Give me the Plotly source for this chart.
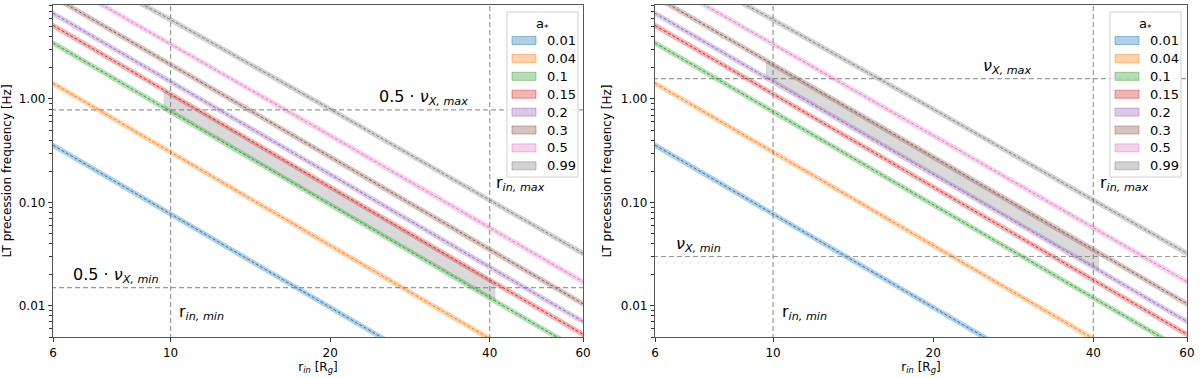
import numpy as np
import plotly.graph_objects as go
from plotly.subplots import make_subplots

# inner disc radius grid [R_g]
r_in = [6, 10, 20, 40, 60]

spin_labels = ["0.01", "0.04", "0.1", "0.15", "0.2", "0.3", "0.5", "0.99"]

# LT precession frequency [Hz] at r_in, one list per spin
nu_001 = [0.358, 0.0774, 0.00968, 0.00121, 0.000359]
nu_004 = [1.419, 0.307, 0.0385, 0.00483, 0.00143]
nu_010 = [3.482, 0.758, 0.0954, 0.0120, 0.00356]
nu_015 = [5.140, 1.122, 0.1418, 0.0179, 0.00531]
nu_020 = [6.742, 1.478, 0.1875, 0.0237, 0.00705]
nu_030 = [9.777, 2.161, 0.2763, 0.0351, 0.01047]
nu_050 = [15.16, 3.415, 0.4442, 0.0570, 0.01709]
nu_099 = [24.43, 5.844, 0.7995, 0.1059, 0.03215]
nu_all = [nu_001, nu_004, nu_010, nu_015, nu_020, nu_030, nu_050, nu_099]

band_frac = 0.065  # relative width of the shaded band (mass uncertainty)

colors = ["#1f77b4", "#ff7f0e", "#2ca02c", "#d62728",
          "#9467bd", "#8c564b", "#e377c2", "#7f7f7f"]

# observational limits
nu_x = [0.030, 1.57]       # nu_X,min, nu_X,max [Hz]
r_in_lims = [10, 40]       # r_in,min, r_in,max

# grey allowed regions (r edges, lower / upper frequency)
allowed_r = [9.7, 41]
allowed_lo_left = [0.829, 0.01113]
allowed_hi_left = [1.228, 0.01659]
allowed_lo_right = [1.617, 0.0220]
allowed_hi_right = [2.364, 0.0326]

Y_RANGE = [np.log10(0.005), np.log10(8.1)]
X_RANGE = [np.log10(6), np.log10(60)]
FONT = "DejaVu Sans"
W, H = 1200, 378
ML, MR, MT, MB = 53, 13, 5, 41


def rgba(hex_color, alpha):
    h = hex_color.lstrip("#")
    return f"rgba({int(h[0:2], 16)},{int(h[2:4], 16)},{int(h[4:6], 16)},{alpha})"


def px2paper(px, py):
    # pixel position in the figure -> paper coords (plot area)
    return (px - ML) / (W - ML - MR), 1 - (py - MT) / (H - MT - MB)


fig = make_subplots(rows=1, cols=2)

panels = [
    dict(col=1, scale=0.5, lo=allowed_lo_left, hi=allowed_hi_left, dx=0,
         max_txt="0.5 · <i>ν</i><sub><i>X, max</i></sub>", min_txt="0.5 · <i>ν</i><sub><i>X, min</i></sub>",
         max_x=36.7),
    dict(col=2, scale=1.0, lo=allowed_lo_right, hi=allowed_hi_right, dx=603,
         max_txt="<i>ν</i><sub><i>X, max</i></sub>", min_txt="<i>ν</i><sub><i>X, min</i></sub>",
         max_x=30.8),
]

shapes = []
for p in panels:
    col = p["col"]
    # allowed region
    fig.add_trace(go.Scatter(
        x=allowed_r + allowed_r[::-1], y=p["hi"] + p["lo"][::-1],
        fill="toself", fillcolor="rgba(128,128,128,0.3)", line=dict(width=0),
        mode="lines", showlegend=False, hoverinfo="skip"), row=1, col=col)

    for lab, nu, c in zip(spin_labels, nu_all, colors):
        hi = [v * (1 + band_frac) for v in nu]
        lo = [v * (1 - band_frac) for v in nu]
        fig.add_trace(go.Scatter(
            x=r_in + r_in[::-1], y=hi + lo[::-1], fill="toself",
            fillcolor=rgba(c, 0.35), line=dict(width=0), mode="lines",
            name=lab, showlegend=False, hoverinfo="skip"), row=1, col=col)
        fig.add_trace(go.Scatter(
            x=r_in, y=nu, mode="lines", line=dict(color=c, width=1, dash="3px,2px"),
            showlegend=False, hoverinfo="skip"), row=1, col=col)

    # reference lines
    ref = dict(color="rgba(120,120,120,0.75)", width=1.2, dash="5px,3px")
    for r in r_in_lims:
        fig.add_trace(go.Scatter(x=[r, r], y=[0.004, 10], mode="lines", line=ref,
                                 showlegend=False, hoverinfo="skip"), row=1, col=col)
    for v in nu_x:
        fig.add_trace(go.Scatter(x=[5, 70], y=[v * p["scale"]] * 2, mode="lines", line=ref,
                                 showlegend=False, hoverinfo="skip"), row=1, col=col)

    xr = "x" if col == 1 else "x2"
    yr = "y" if col == 1 else "y2"
    ann = dict(xref=xr, yref=yr, showarrow=False, font=dict(family=FONT, size=16, color="black"))
    fig.add_annotation(x=np.log10(p["max_x"]), y=np.log10(nu_x[1] * p["scale"]), text=p["max_txt"],
                       xanchor="right", yanchor="bottom", **ann)
    fig.add_annotation(x=np.log10(6.5), y=np.log10(nu_x[0] * p["scale"]), text=p["min_txt"],
                       xanchor="left", yanchor="bottom", **ann)
    fig.add_annotation(x=np.log10(10.3), y=np.log10(0.0086), text="r<sub><i>in, min</i></sub>",
                       xanchor="left", yanchor="middle", **ann)
    fig.add_annotation(x=np.log10(40.8), y=np.log10(0.152), text="r<sub><i>in, max</i></sub>",
                       xanchor="left", yanchor="middle", **ann)

    # legend box (matplotlib style), drawn by hand to keep its compact spacing
    dx = p["dx"]
    x0, y0 = px2paper(507 + dx, 12)
    x1, y1 = px2paper(578 + dx, 177)
    shapes.append(dict(type="rect", xref="paper", yref="paper", x0=x0, y0=y0, x1=x1, y1=y1,
                       line=dict(color="#d0d0d0", width=1), fillcolor="rgba(255,255,255,0.85)"))
    tx, ty = px2paper(542 + dx, 24)
    fig.add_annotation(x=tx, y=ty, xref="paper", yref="paper", text="a<sub>*</sub>", showarrow=False,
                       xanchor="center", yanchor="middle", font=dict(family=FONT, size=13, color="black"))
    for i, (lab, c) in enumerate(zip(spin_labels, colors)):
        yc = 40.5 + 17.9 * i
        sx0, sy0 = px2paper(512 + dx, yc + 4)
        sx1, sy1 = px2paper(536 + dx, yc - 4)
        shapes.append(dict(type="rect", xref="paper", yref="paper", x0=sx0, y0=sy0, x1=sx1, y1=sy1,
                           line=dict(color=rgba(c, 0.45), width=1), fillcolor=rgba(c, 0.35)))
        lx, ly = px2paper(545 + dx, yc)
        fig.add_annotation(x=lx, y=ly, xref="paper", yref="paper", text=lab, showarrow=False,
                           xanchor="left", yanchor="middle", font=dict(family=FONT, size=13, color="black"))

axis_common = dict(type="log", showgrid=False, zeroline=False, showline=True, mirror=True,
                   linecolor="#555", linewidth=1.3, ticks="outside", ticklen=4, tickwidth=1,
                   tickcolor="#333", tickfont=dict(family=FONT, size=12, color="black"))

minor_y = [0.005, 0.006, 0.007, 0.008, 0.009, 0.02, 0.03, 0.04, 0.05, 0.06, 0.07, 0.08, 0.09,
           0.2, 0.3, 0.4, 0.5, 0.6, 0.7, 0.8, 0.9, 2, 3, 4, 5, 6, 7, 8]

fig.update_xaxes(range=X_RANGE, tickvals=[6, 10, 20, 40, 60], ticktext=["6", "10", "20", "40", "60"],
                 title=dict(text="r<sub><i>in</i></sub> [R<sub><i>g</i></sub>]", standoff=1,
                            font=dict(family=FONT, size=12, color="black")),
                 **axis_common)
fig.update_yaxes(range=Y_RANGE, tickvals=[0.01, 0.1, 1], ticktext=["0.01", "0.10", "1.00"],
                 minor=dict(tickvals=minor_y, ticks="outside", ticklen=2.5, tickcolor="#333"),
                 title=dict(text="LT precession frequency [Hz]", standoff=6,
                            font=dict(family=FONT, size=12, color="black")),
                 **axis_common)

fig.update_layout(
    width=W, height=H,
    margin=dict(l=ML, r=MR, t=MT, b=MB),
    plot_bgcolor="white", paper_bgcolor="white",
    font=dict(family=FONT, size=12, color="black"),
    xaxis=dict(domain=[0, 0.4674]),
    xaxis2=dict(domain=[0.5309, 1]),
    showlegend=False,
    shapes=shapes,
)

# drop the default page margin so the figure sits at the window origin
fig.write_html("out.html", config={"displayModeBar": False},
               post_script="document.body.style.margin='0';")
